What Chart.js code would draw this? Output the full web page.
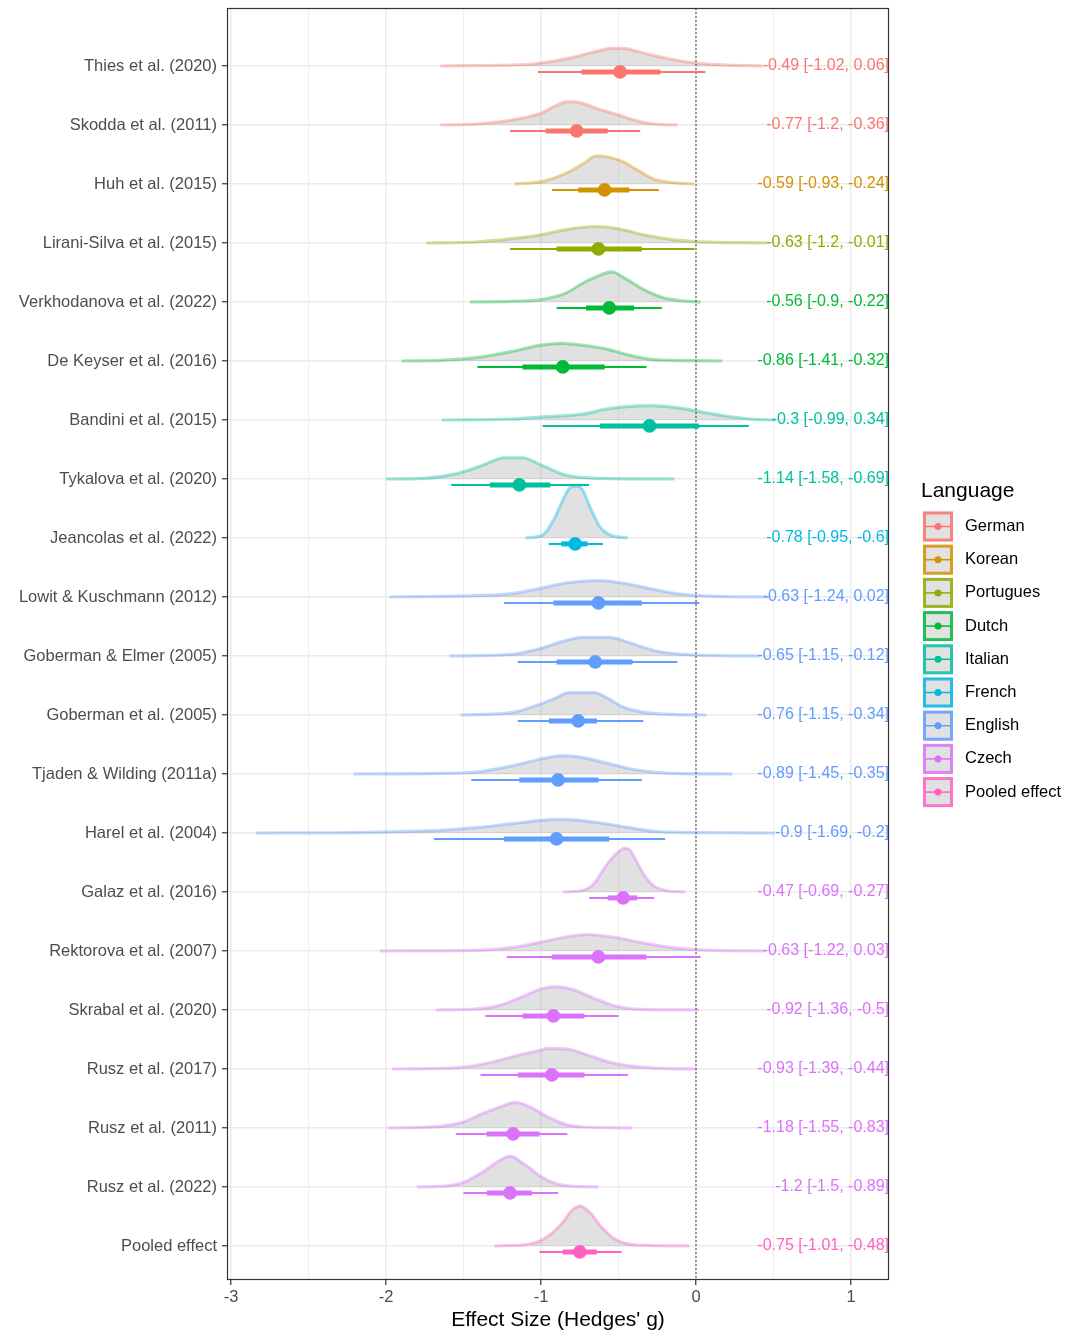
<!DOCTYPE html>
<html><head><meta charset="utf-8">
<script src="https://cdn.jsdelivr.net/npm/chart.js@4.4.1/dist/chart.umd.min.js"></script>
<style>html,body{margin:0;padding:0;background:#fff;} canvas{display:block;}</style>
</head><body>
<canvas id="c" width="1069" height="1333"></canvas>
<script>
const studies = ['Thies et al. (2020)','Skodda et al. (2011)','Huh et al. (2015)','Lirani-Silva et al. (2015)','Verkhodanova et al. (2022)','De Keyser et al. (2016)','Bandini et al. (2015)','Tykalova et al. (2020)','Jeancolas et al. (2022)','Lowit & Kuschmann (2012)','Goberman & Elmer (2005)','Goberman et al. (2005)','Tjaden & Wilding (2011a)','Harel et al. (2004)','Galaz et al. (2016)','Rektorova et al. (2007)','Skrabal et al. (2020)','Rusz et al. (2017)','Rusz et al. (2011)','Rusz et al. (2022)','Pooled effect'];
const language = ['German','German','Korean','Portugues','Dutch','Dutch','Italian','Italian','French','English','English','English','English','English','Czech','Czech','Czech','Czech','Czech','Czech','Pooled effect'];
const langNames = ['German','Korean','Portugues','Dutch','Italian','French','English','Czech','Pooled effect'];
const langColors = ['#F8766D','#D39200','#93AA00','#00BA38','#00C19F','#00B9E3','#619CFF','#DB72FB','#FF61C3'];
const median  = [-0.49,-0.77,-0.59,-0.63,-0.56,-0.86,-0.3,-1.14,-0.78,-0.63,-0.65,-0.76,-0.89,-0.9,-0.47,-0.63,-0.92,-0.93,-1.18,-1.2,-0.75];
const lower95 = [-1.02,-1.2,-0.93,-1.2,-0.9,-1.41,-0.99,-1.58,-0.95,-1.24,-1.15,-1.15,-1.45,-1.69,-0.69,-1.22,-1.36,-1.39,-1.55,-1.5,-1.01];
const upper95 = [0.06,-0.36,-0.24,-0.01,-0.22,-0.32,0.34,-0.69,-0.6,0.02,-0.12,-0.34,-0.35,-0.2,-0.27,0.03,-0.5,-0.44,-0.83,-0.89,-0.48];
const lower66 = [-0.74,-0.97,-0.76,-0.90,-0.71,-1.12,-0.62,-1.33,-0.87,-0.92,-0.90,-0.95,-1.14,-1.24,-0.57,-0.93,-1.12,-1.15,-1.35,-1.35,-0.86];
const upper66 = [-0.23,-0.57,-0.43,-0.35,-0.40,-0.59,0.02,-0.94,-0.70,-0.35,-0.41,-0.64,-0.63,-0.56,-0.38,-0.32,-0.72,-0.72,-1.01,-1.06,-0.64];
// density outlines: x positions and heights (in row units)
const densX = [
 [-1.65,-1.07,-1.0,-0.84,-0.73,-0.61,-0.54,-0.47,-0.38,-0.27,-0.15,0,0.19,0.43],
 [-1.65,-1.42,-1.19,-1.0,-0.91,-0.83,-0.75,-0.64,-0.5,-0.38,-0.27,-0.12],
 [-1.17,-1.0,-0.84,-0.73,-0.64,-0.555,-0.475,-0.38,-0.27,-0.15,-0.01],
 [-1.74,-1.42,-1.19,-1.0,-0.84,-0.66,-0.5,-0.34,-0.15,0,0.46],
 [-1.46,-1.19,-1.0,-0.84,-0.73,-0.636,-0.544,-0.452,-0.336,-0.221,-0.106,0.03],
 [-1.9,-1.65,-1.42,-1.19,-1.0,-0.866,-0.728,-0.59,-0.45,-0.29,-0.04,0.17],
 [-1.64,-1.19,-0.96,-0.73,-0.59,-0.45,-0.29,-0.13,0.03,0.19,0.355,0.51],
 [-2.0,-1.765,-1.535,-1.373,-1.235,-1.12,-1.0,-0.843,-0.613,-0.14],
 [-1.10,-0.99,-0.92,-0.86,-0.81,-0.76,-0.73,-0.685,-0.62,-0.555,-0.44],
 [-1.98,-1.42,-1.19,-1.0,-0.84,-0.636,-0.475,-0.31,-0.15,0,0.19,0.48],
 [-1.59,-1.19,-1.0,-0.866,-0.728,-0.555,-0.45,-0.267,-0.083,0.147,0.41],
 [-1.52,-1.19,-1.0,-0.912,-0.82,-0.66,-0.567,-0.475,-0.336,-0.152,0.067],
 [-2.21,-1.65,-1.42,-1.19,-1.0,-0.866,-0.728,-0.567,-0.382,-0.152,0.235],
 [-2.84,-2.11,-1.65,-1.42,-1.19,-1.0,-0.866,-0.66,-0.45,-0.267,0,0.51],
 [-0.86,-0.73,-0.66,-0.58,-0.51,-0.46,-0.43,-0.38,-0.33,-0.28,-0.2,-0.07],
 [-2.04,-1.42,-1.19,-1.0,-0.843,-0.705,-0.544,-0.336,-0.152,0,0.19,0.45],
 [-1.68,-1.42,-1.258,-1.12,-1.0,-0.912,-0.797,-0.66,-0.52,-0.36,0.02],
 [-1.96,-1.535,-1.304,-1.143,-1.0,-0.959,-0.82,-0.682,-0.544,-0.382,-0.198,0.005],
 [-1.99,-1.65,-1.51,-1.373,-1.258,-1.17,-1.074,-0.959,-0.843,-0.728,-0.41],
 [-1.80,-1.60,-1.49,-1.373,-1.28,-1.2,-1.12,-1.0,-0.889,-0.774,-0.63],
 [-1.30,-1.074,-0.959,-0.866,-0.797,-0.751,-0.682,-0.613,-0.52,-0.382,-0.044]
];
const densH = [
 [0,0.03,0.05,0.12,0.19,0.27,0.30,0.30,0.25,0.175,0.11,0.05,0.017,0],
 [0,0.017,0.085,0.2,0.32,0.395,0.38,0.28,0.17,0.068,0.017,0],
 [0,0.04,0.18,0.34,0.475,0.45,0.38,0.24,0.08,0.023,0],
 [0,0.017,0.073,0.14,0.226,0.28,0.24,0.14,0.056,0.023,0],
 [0,0.011,0.04,0.15,0.32,0.435,0.51,0.39,0.21,0.08,0.023,0],
 [0,0.011,0.056,0.16,0.27,0.30,0.265,0.21,0.113,0.028,0.006,0],
 [0,0.017,0.056,0.10,0.18,0.226,0.243,0.21,0.14,0.068,0.017,0],
 [0,0.011,0.096,0.237,0.36,0.36,0.237,0.068,0.011,0],
 [0,0.05,0.3,0.64,0.86,0.88,0.81,0.53,0.19,0.05,0],
 [0,0.023,0.056,0.15,0.237,0.28,0.237,0.15,0.068,0.028,0.006,0],
 [0,0.028,0.13,0.243,0.316,0.316,0.243,0.09,0.028,0.006,0],
 [0,0.04,0.19,0.28,0.38,0.38,0.28,0.14,0.045,0.011,0],
 [0,0.011,0.034,0.136,0.254,0.31,0.277,0.18,0.068,0.011,0],
 [0,0.011,0.045,0.09,0.158,0.215,0.23,0.186,0.10,0.028,0.006,0],
 [0,0.03,0.14,0.45,0.66,0.74,0.72,0.5,0.27,0.12,0.03,0],
 [0,0.011,0.056,0.15,0.237,0.28,0.237,0.136,0.056,0.023,0.006,0],
 [0,0.017,0.085,0.226,0.356,0.395,0.35,0.2,0.068,0.011,0],
 [0,0.023,0.124,0.237,0.32,0.35,0.333,0.22,0.107,0.04,0.006,0],
 [0,0.028,0.096,0.25,0.36,0.435,0.36,0.19,0.062,0.017,0],
 [0,0.023,0.09,0.26,0.43,0.525,0.41,0.175,0.045,0.011,0],
 [0,0.034,0.158,0.384,0.61,0.68,0.56,0.33,0.113,0.017,0]
];
const xTicks = [-3,-2.5,-2,-1.5,-1,-0.5,0,0.5,1];
const xTitle = "Effect Size (Hedges' g)";
const legendTitle = 'Language';

const FONT = '"Liberation Sans", Arial, Helvetica, sans-serif';
const colorOf = lang => langColors[langNames.indexOf(lang)];
function alpha(hex, a){
  const r=parseInt(hex.slice(1,3),16), g=parseInt(hex.slice(3,5),16), b=parseInt(hex.slice(5,7),16);
  return `rgba(${r},${g},${b},${a})`;
}
const SLAB_FILL = 'rgba(128,128,128,0.24)';
const OFF = 0.1;
const nRows = studies.length;
const datasets = [];
studies.forEach((s,i)=>{
  const row = i+1, col = colorOf(language[i]);
  datasets.push({data: densX[i].map((x,j)=>({x, y: row - densH[i][j]})),
    borderColor: alpha(col,0.38), borderWidth: 3.2, backgroundColor: SLAB_FILL,
    fill: {value: row}, pointRadius: 0, cubicInterpolationMode: 'monotone', order: 4});
  datasets.push({data:[{x:lower95[i],y:row+OFF},{x:upper95[i],y:row+OFF}],
    borderColor: col, borderWidth: 2, pointRadius: 0, fill: false, order: 2});
  datasets.push({data:[{x:lower66[i],y:row+OFF},{x:upper66[i],y:row+OFF}],
    borderColor: col, borderWidth: 5, pointRadius: 0, fill: false, order: 1, borderCapStyle:'butt'});
  datasets.push({data:[{x:median[i],y:row+OFF}], showLine:false, pointRadius: 6.8,
    pointBackgroundColor: col, pointBorderWidth: 0, borderColor: col, fill:false, order: 0});
});
const yMin = 0.017, yMax = nRows + 0.576;
datasets.push({data:[{x:0,y:yMin},{x:0,y:yMax}], borderColor:'#444', borderWidth:1,
  borderDash:[2,2], pointRadius:0, fill:false, order:3});

const overlay = {
  id:'overlay',
  afterDatasetsDraw(chart){
    const {ctx, chartArea, scales:{y}} = chart;
    ctx.save();
    ctx.font = `16px ${FONT}`;
    ctx.textAlign = 'right'; ctx.textBaseline = 'middle';
    studies.forEach((s,i)=>{
      ctx.fillStyle = colorOf(language[i]);
      ctx.fillText(`${median[i]} [${lower95[i]}, ${upper95[i]}]`, chartArea.right, y.getPixelForValue(i+1));
    });
    ctx.restore();
  },
  afterDraw(chart){
    const {ctx, chartArea} = chart;
    ctx.save();
    ctx.strokeStyle = '#333'; ctx.lineWidth = 1.2;
    ctx.strokeRect(chartArea.left+0.5, chartArea.top+0.5, chartArea.right-chartArea.left-1, chartArea.bottom-chartArea.top-1);
    // legend
    const lx = chartArea.right + 34, ly = 491;
    ctx.fillStyle = '#000'; ctx.font = `21px ${FONT}`;
    ctx.textAlign = 'left'; ctx.textBaseline = 'middle';
    ctx.fillText(legendTitle, lx - 2, ly);
    langNames.forEach((n,k)=>{
      const cy = 526.5 + k*33.2, col = langColors[k];
      const bx = lx, by = cy - 15, s = 30;
      ctx.fillStyle = '#fff'; ctx.fillRect(bx, by, s, s);
      ctx.fillStyle = SLAB_FILL; ctx.fillRect(bx, by, s, s);
      ctx.strokeStyle = alpha(col,0.85); ctx.lineWidth = 3;
      ctx.strokeRect(bx+1.5, by+1.5, s-3, s-3);
      ctx.strokeStyle = col; ctx.lineWidth = 1.5;
      ctx.beginPath(); ctx.moveTo(bx+2, cy); ctx.lineTo(bx+s-2, cy); ctx.stroke();
      ctx.fillStyle = col; ctx.beginPath(); ctx.arc(bx+s/2, cy, 3.5, 0, Math.PI*2); ctx.fill();
      ctx.fillStyle = '#000'; ctx.font = `16.5px ${FONT}`;
      ctx.fillText(n, lx + 42, cy);
    });
    ctx.restore();
  }
};

new Chart(document.getElementById('c'), {
  type: 'line',
  data: { datasets },
  plugins: [overlay],
  options: {
    responsive: false, animation: false, devicePixelRatio: 1, events: [],
    layout: { padding: { top: 8, right: 180, left: 0, bottom: 0 } },
    plugins: { legend: { display: false }, tooltip: { enabled: false } },
    scales: {
      x: {
        type: 'linear', min: -3.026, max: 1.245,
        afterBuildTicks: a => { a.ticks = xTicks.map(v=>({value:v})); },
        afterFit: s => { s.height = 53; s.paddingLeft = 0; s.paddingRight = 0; },
        ticks: { autoSkip:false, maxRotation:0, padding: 3, color:'#4d4d4d',
          font:{family:FONT, size:16.5},
          callback: v => Number.isInteger(v) ? String(v) : '' },
        grid: { color:'#ebebeb', drawTicks:true, tickLength:5, tickWidth:1.2,
          lineWidth: c => (c.tick && Number.isInteger(c.tick.value)) ? 1.5 : 0.8,
          tickColor: c => (c.tick && Number.isInteger(c.tick.value)) ? '#333' : 'rgba(0,0,0,0)' },
        border: { display:false },
        title: { display:true, text:xTitle, color:'#000', font:{family:FONT, size:21}, padding:{top:0,bottom:0} }
      },
      y: {
        type: 'linear', reverse: true, min: yMin, max: yMax,
        afterBuildTicks: a => { a.ticks = studies.map((s,i)=>({value:i+1})); },
        afterFit: s => { s.width = 227; s.paddingTop = 0; s.paddingBottom = 0; },
        ticks: { autoSkip:false, padding: 5, color:'#4d4d4d', font:{family:FONT, size:16.5},
          callback: v => studies[v-1] },
        grid: { color:'#ebebeb', lineWidth:1.5, drawTicks:true, tickLength:5, tickWidth:1.2, tickColor:'#333' },
        border: { display:false }
      }
    }
  }
});
</script>
</body></html>
